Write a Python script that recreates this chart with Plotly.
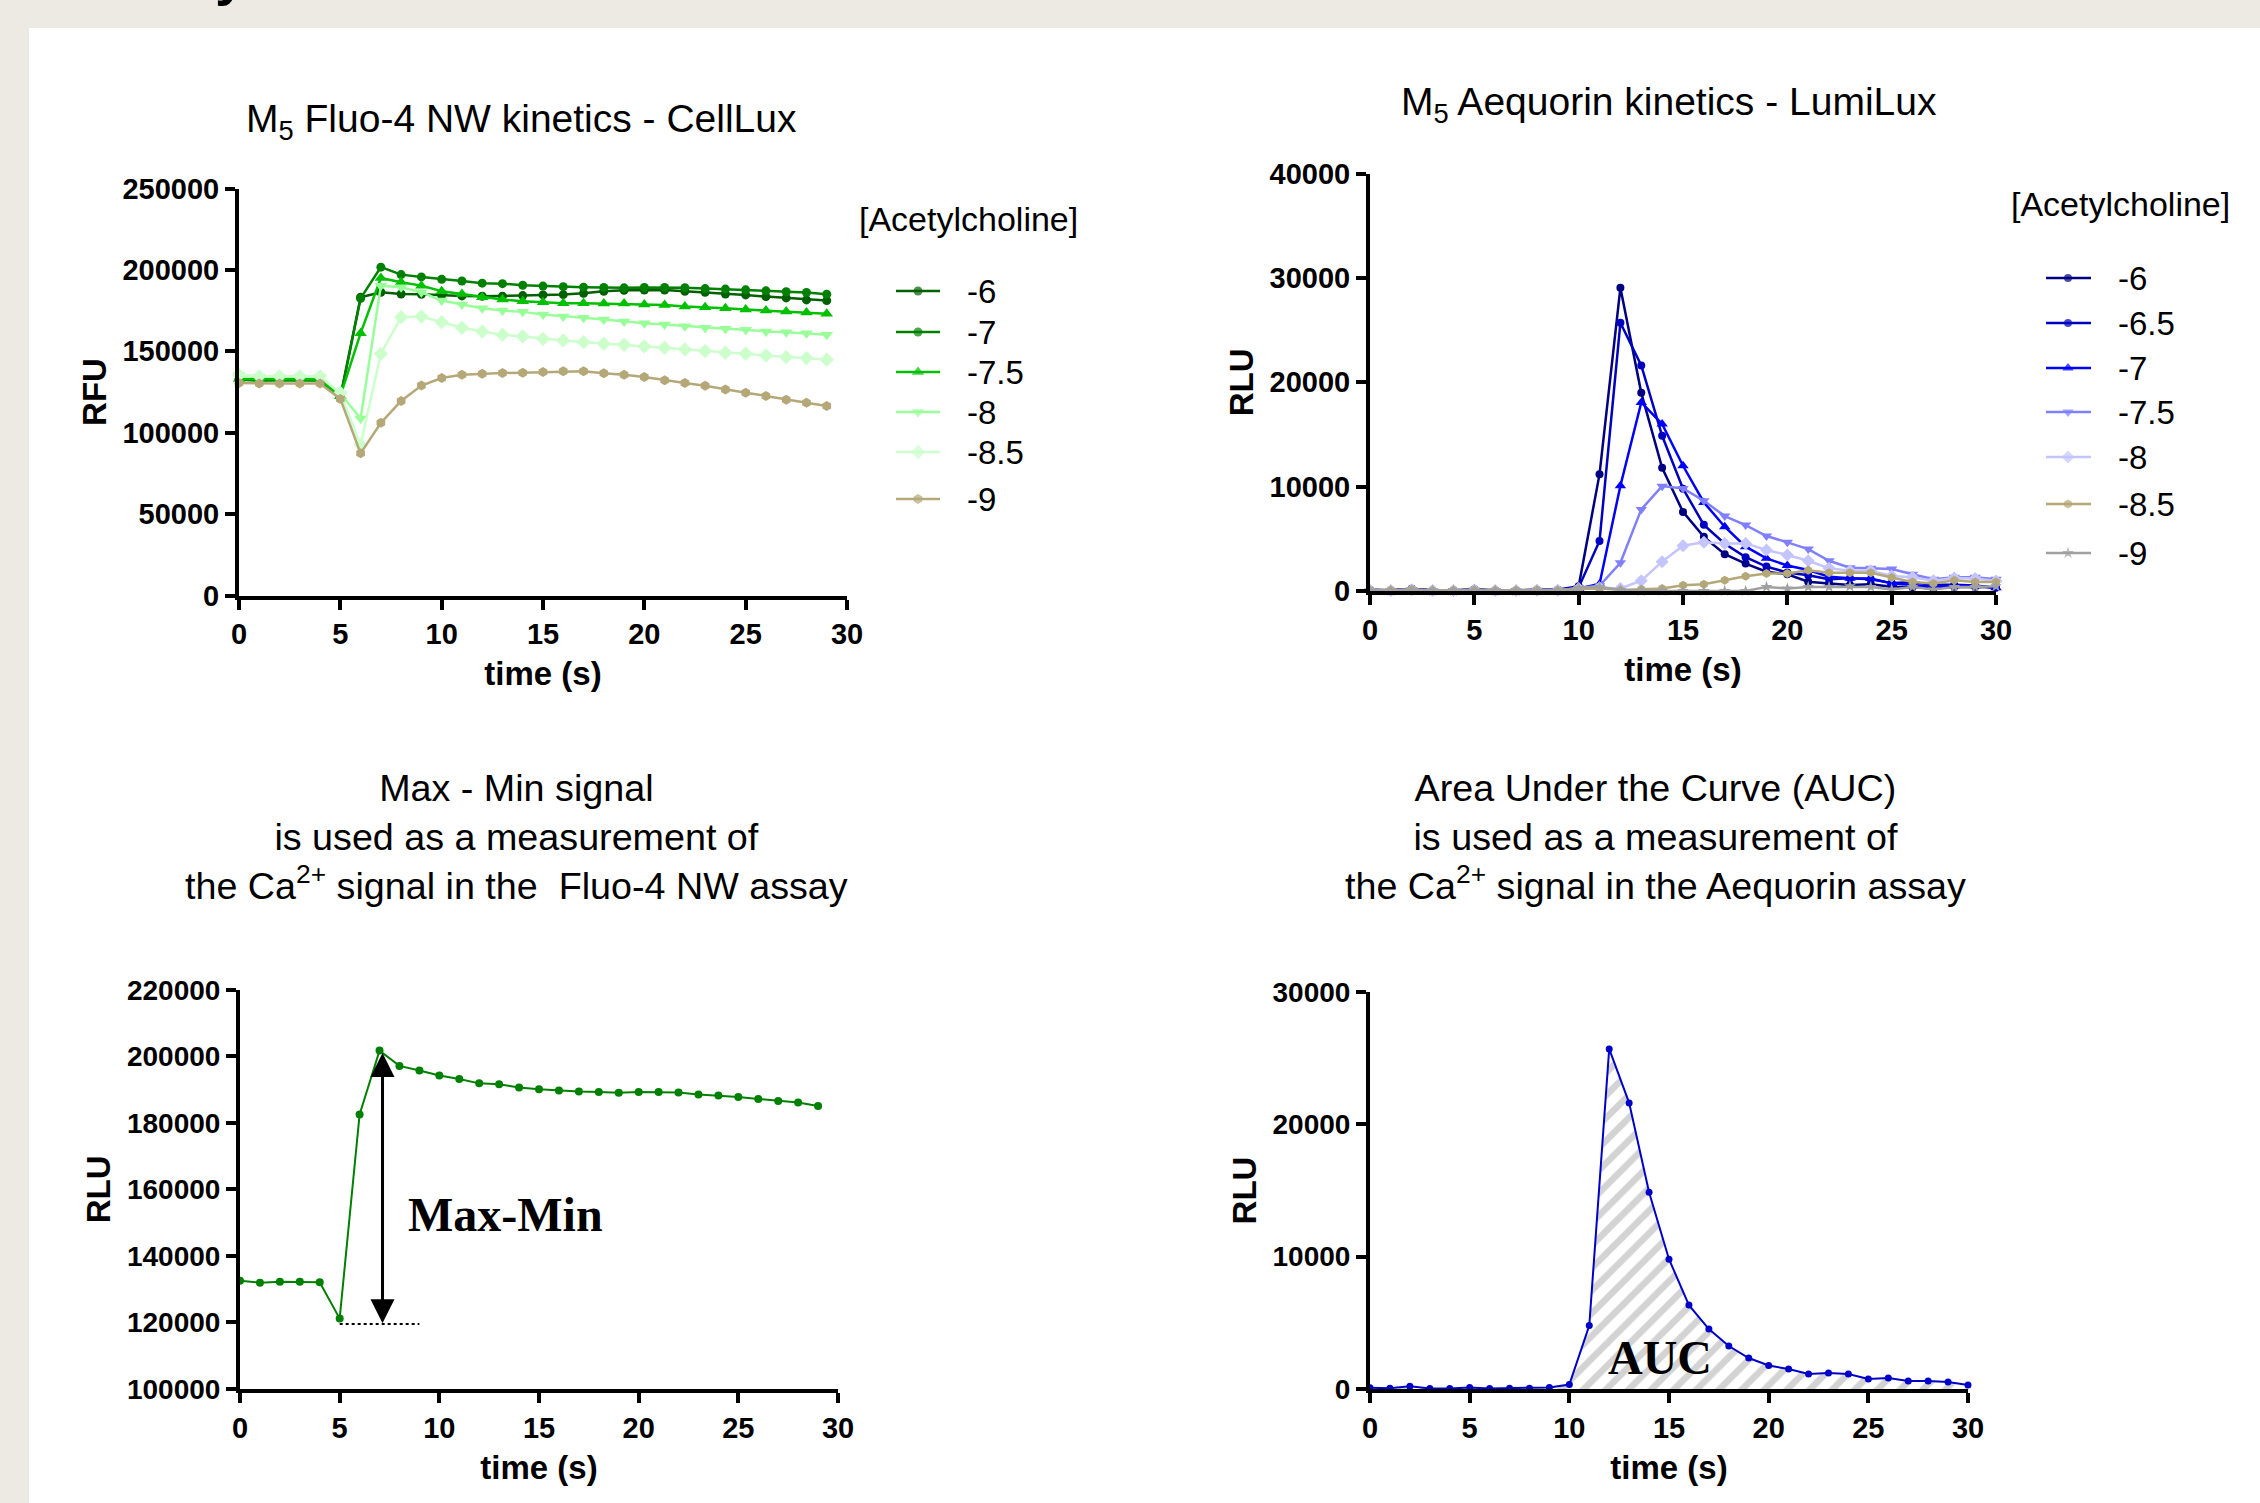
import plotly.graph_objects as go

W, H = 2260, 1503
SANS = "Liberation Sans, Arial, sans-serif"
SERIF = "Liberation Serif, Times New Roman, serif"

# ------------------------------------------------------------------ data
fluo_time = [0, 1, 2, 3, 4, 5, 6, 7, 8, 9, 10, 11, 12, 13, 14, 15, 16, 17, 18, 19,
             20, 21, 22, 23, 24, 25, 26, 27, 28, 29]
fluo_conc = ["-6", "-7", "-7.5", "-8", "-8.5", "-9"]
fluo_m6 = [132600, 132400, 132500, 132500, 132400, 121960, 183200, 186250, 185230, 185030,
           184420, 184010, 183800, 183800, 184200, 184620, 184830, 185640, 186860, 187470,
           187680, 187680, 186870, 186250, 185230, 184620, 183600, 182780, 181560, 181150]
fluo_m7 = [132550, 131950, 132250, 132250, 132100, 121150, 182500, 201700, 197100, 195700,
           194200, 193150, 191850, 191550, 190600, 190050, 189700, 189400, 189250, 189000,
           189250, 189250, 189100, 188500, 188200, 187750, 187150, 186550, 186100, 185050]
fluo_m75 = [133000, 132800, 132800, 132800, 132700, 122400, 161160, 195020, 192370, 190330,
            186860, 185230, 183190, 181760, 180740, 180130, 179520, 179520, 179320, 179320,
            178700, 178500, 177480, 177070, 176460, 175640, 175030, 174420, 173810, 172990]
fluo_m8 = [135450, 134400, 134400, 134400, 134300, 124030, 108730, 190330, 189310, 186250,
           181150, 178700, 176460, 175030, 174220, 172580, 171360, 170540, 169530, 168300,
           167280, 166470, 165450, 164430, 163810, 163200, 162180, 161770, 161160, 160140]
fluo_m85 = [135500, 134640, 134640, 134640, 134640, 124440, 92410, 148510, 170950, 171360,
            167890, 164420, 162180, 160140, 159120, 157690, 156670, 155650, 154630, 154020,
            153000, 152180, 151160, 150140, 149120, 148510, 147490, 146470, 145860, 144840]
fluo_m9 = [130560, 130150, 130150, 130150, 130150, 120770, 87310, 106080, 119540, 128930,
           133620, 135660, 136270, 136680, 136880, 137290, 137700, 137700, 136480, 135660,
           134230, 132190, 130560, 128800, 126500, 124600, 122600, 120300, 118400, 116400]

aeq_time = [0, 1, 2, 3, 4, 5, 6, 7, 8, 9, 10, 11, 12, 13, 14, 15, 16, 17, 18, 19, 20,
            21, 22, 23, 24, 25, 26, 27, 28, 29, 30]
aeq_conc = ["-6", "-6.5", "-7", "-7.5", "-8", "-8.5", "-9"]
aeq_m6 = [120, 60, 220, 60, 80, 160, 70, 60, 130, 110, 450, 11200, 29050, 18990, 11800,
          7580, 5190, 3525, 2630, 1850, 1600, 890, 730, 570, 640, 415, 350, 255, 415, 415, 350]
aeq_m65 = [100, 60, 200, 40, 40, 110, 40, 50, 60, 120, 340, 4790, 25700, 21620, 14870,
           9810, 6340, 4530, 3245, 2340, 1775, 1510, 1130, 1210, 1130, 755, 830, 600, 600, 530, 300]
aeq_m7 = [-80, -60, 150, -50, -40, 80, -70, -60, 40, 0, 250, 670, 10090, 18070, 16000,
          12000, 8490, 6160, 4250, 3130, 2440, 2010, 1370, 1210, 1200, 730, 570, 400, 500, 500, 300]
aeq_m75 = [50, 40, 150, 30, 40, 100, 40, 40, 80, 60, 300, 500, 2710, 7820, 10050,
           9830, 8650, 7180, 6320, 5270, 4660, 4020, 2900, 2230, 2170, 2110, 1600, 1120, 1310, 1310, 1120]
aeq_m8 = [60, 50, 120, 40, 50, 90, 50, 50, 70, 60, 250, 300, 250, 990, 2810,
          4340, 4660, 4560, 4560, 3930, 3450, 2900, 2170, 1950, 1950, 1440, 1310, 990, 1250, 1200, 950]
aeq_m85 = [80, 60, 150, 50, 60, 100, 60, 60, 90, 80, 200, 250, 100, 160, 240,
           555, 650, 1035, 1420, 1675, 1675, 1995, 1740, 1740, 1740, 1290, 870, 720, 1035, 870, 870]
aeq_m9 = [30, 20, 80, 20, 20, 60, 20, 20, 40, 30, 300, 400, 100, 20, 10,
          0, 10, 0, 0, 390, 240, 390, 390, 450, 390, 150, 390, 150, 390, 390, 450]

maxmin_time = fluo_time
maxmin_rlu = [132550, 131950, 132250, 132250, 132100, 121150, 182500, 201700, 197100, 195700,
              194200, 193150, 191850, 191550, 190600, 190050, 189700, 189400, 189250, 189000,
              189250, 189250, 189100, 188500, 188200, 187750, 187150, 186550, 186100, 185050]
maxmin_top = 201000      # arrow tip (max)
maxmin_bottom = 119300   # arrow tip (min baseline)
maxmin_arrow_t = 7.15
maxmin_base_t = [5, 9]

auc_time = aeq_time
auc_rlu = [100, 60, 200, 40, 40, 110, 40, 50, 60, 120, 340, 4790, 25700, 21620, 14870,
           9810, 6340, 4530, 3245, 2340, 1775, 1510, 1130, 1210, 1130, 755, 830, 600, 600, 530, 300]

x_ticks = [0, 5, 10, 15, 20, 25, 30]

# ------------------------------------------------------------------ styles
fluo_series = [fluo_m6, fluo_m7, fluo_m75, fluo_m8, fluo_m85, fluo_m9]
fluo_style = [("#006000", "circle", 9), ("#008000", "circle", 9), ("#00C000", "triangle-up", 11),
              ("#99FF99", "triangle-down", 11), ("#CCFFCC", "diamond", 11), ("#B5A878", "hexagon", 10)]
aeq_series = [aeq_m6, aeq_m65, aeq_m7, aeq_m75, aeq_m8, aeq_m85, aeq_m9]
aeq_style = [("#000080", "circle", 8), ("#0000C0", "circle", 8), ("#0000FF", "triangle-up", 10),
             ("#8080FF", "triangle-down", 10), ("#C4C4FF", "diamond", 10), ("#B5A878", "hexagon", 9),
             ("#A0A0A0", "star", 9)]


def px(x):
    return x / W


def py(y):
    return 1 - y / H


fig = go.Figure()

for vals, name, (col, sym, sz) in zip(fluo_series, fluo_conc, fluo_style):
    fig.add_trace(go.Scatter(x=fluo_time, y=vals, name=name, xaxis="x", yaxis="y",
                             mode="lines+markers", cliponaxis=False, showlegend=False,
                             line=dict(color=col, width=2.5),
                             marker=dict(symbol=sym, size=sz, color=col, line=dict(width=0))))

for vals, name, (col, sym, sz) in zip(aeq_series, aeq_conc, aeq_style):
    fig.add_trace(go.Scatter(x=aeq_time, y=vals, name=name, xaxis="x2", yaxis="y2",
                             mode="lines+markers", cliponaxis=False, showlegend=False,
                             line=dict(color=col, width=2.5),
                             marker=dict(symbol=sym, size=sz, color=col, line=dict(width=0))))

fig.add_trace(go.Scatter(x=maxmin_time, y=maxmin_rlu, xaxis="x3", yaxis="y3", mode="lines+markers",
                         cliponaxis=False, showlegend=False, line=dict(color="#008000", width=2),
                         marker=dict(size=8, color="#008000")))

fig.add_trace(go.Scatter(x=auc_time, y=auc_rlu, xaxis="x4", yaxis="y4", mode="lines+markers",
                         cliponaxis=False, showlegend=False, fill="tozeroy", fillcolor="white",
                         fillpattern=dict(shape="/", fgcolor="#A8A8A8", bgcolor="white",
                                          size=16, solidity=0.42),
                         line=dict(color="#0000C8", width=2),
                         marker=dict(size=7, color="#0000C8")))

# ------------------------------------------------------------------ manual legends (overlay pixel axis)
legends = [
    dict(labels=fluo_conc, styles=fluo_style, title=(968, 219), line=(896, 918, 940), text_x=965,
         rows=[291, 332, 372, 412, 452, 499]),
    dict(labels=aeq_conc, styles=aeq_style, title=(2120, 204), line=(2046, 2068, 2091), text_x=2116,
         rows=[278, 323, 368, 412, 457, 504, 553]),
]
annotations = []
for lg in legends:
    annotations.append(dict(text="[Acetylcholine]", x=lg["title"][0], y=lg["title"][1], xref="x5", yref="y5",
                            showarrow=False, xanchor="center", yanchor="middle",
                            font=dict(family=SANS, size=34, color="black")))
    for lab, (col, sym, sz), yr in zip(lg["labels"], lg["styles"], lg["rows"]):
        fig.add_trace(go.Scatter(x=list(lg["line"]), y=[yr, yr, yr], xaxis="x5", yaxis="y5",
                                 mode="lines+markers", showlegend=False, hoverinfo="skip",
                                 cliponaxis=False, line=dict(color=col, width=2.5),
                                 marker=dict(symbol=sym, size=[0, sz, 0], color=col,
                                             line=dict(width=0))))
        annotations.append(dict(text=lab, x=lg["text_x"], y=yr, xref="x5", yref="y5", showarrow=False,
                                xanchor="left", yanchor="middle",
                                font=dict(family=SANS, size=33, color="black")))

# ------------------------------------------------------------------ titles
top_font = dict(family=SANS, size=39, color="black")
low_font = dict(family=SANS, size=37.7, color="black")
annotations += [
    dict(text="M<sub>5</sub> Fluo-4 NW kinetics - CellLux", x=px(521), y=py(121), xref="paper",
         yref="paper", showarrow=False, xanchor="center", yanchor="middle", font=top_font),
    dict(text="M<sub>5</sub> Aequorin kinetics - LumiLux", x=px(1669), y=py(104), xref="paper",
         yref="paper", showarrow=False, xanchor="center", yanchor="middle", font=top_font),
    dict(text="Max - Min signal<br>is used as a measurement of<br>the Ca<sup>2+</sup> signal in the\u00a0 Fluo-4 NW assay",
         x=px(516), y=py(837), xref="paper", yref="paper", showarrow=False, xanchor="center",
         yanchor="middle", font=low_font),
    dict(text="Area Under the Curve (AUC)<br>is used as a measurement of<br>the Ca<sup>2+</sup> signal in the Aequorin assay",
         x=px(1655), y=py(837), xref="paper", yref="paper", showarrow=False, xanchor="center",
         yanchor="middle", font=low_font),
    # cut-off slide heading glyph at the very top
    dict(text="y", x=px(213), y=py(-59), xref="paper", yref="paper", showarrow=False,
         xanchor="left", yanchor="top", font=dict(family=SANS, size=56, color="black", weight="bold")),
    # Max-Min annotation
    dict(text="<b>Max-Min</b>", x=8.33, y=152300, xref="x3", yref="y3", showarrow=False,
         xanchor="left", yanchor="middle", font=dict(family=SERIF, size=48, color="black")),
    dict(x=maxmin_arrow_t, y=maxmin_top, ax=maxmin_arrow_t, ay=maxmin_bottom, xref="x3", yref="y3",
         axref="x3", ayref="y3", text="", showarrow=True, arrowhead=2, startarrowhead=2,
         arrowside="end+start", arrowwidth=3, arrowsize=1.6, startarrowsize=1.6, arrowcolor="black"),
    dict(text="<b>AUC</b>", x=14.53, y=2390, xref="x4", yref="y4", showarrow=False,
         xanchor="center", yanchor="middle", font=dict(family=SERIF, size=48, color="black")),
]

shapes = [
    dict(type="rect", xref="paper", yref="paper", x0=px(29), x1=1, y0=0, y1=py(28),
         fillcolor="white", line=dict(width=0), layer="below"),
    dict(type="line", xref="x3", yref="y3", x0=maxmin_base_t[0], x1=maxmin_base_t[1],
         y0=maxmin_bottom + 200, y1=maxmin_bottom + 200, line=dict(color="black", width=2, dash="dot")),
]


def xaxis(dom, anchor, standoff=14):
    return dict(domain=[px(dom[0]), px(dom[1])], anchor=anchor, range=[0, 30], tickvals=x_ticks,
                showline=True, linecolor="black", linewidth=4, ticks="outside", ticklen=10,
                tickwidth=4, tickcolor="black", showgrid=False, zeroline=False, automargin=False,
                tickfont=dict(family=SANS, size=29, color="black", weight="bold"),
                title=dict(text="time (s)", standoff=standoff,
                           font=dict(family=SANS, size=33, color="black", weight="bold")))


def yaxis(dom, anchor, rng, dtick, title, fs=29, standoff=7):
    return dict(domain=[py(dom[0]), py(dom[1])], anchor=anchor, range=rng, dtick=dtick, tick0=0,
                tickformat="d", showline=True, linecolor="black", linewidth=4, ticks="outside",
                ticklen=10, tickwidth=4, tickcolor="black", showgrid=False, zeroline=False,
                automargin=False,
                tickfont=dict(family=SANS, size=fs, color="black", weight="bold"),
                title=dict(text=title, standoff=standoff,
                           font=dict(family=SANS, size=33, color="black", weight="bold")))


fig.update_layout(
    width=W, height=H, autosize=False, margin=dict(l=0, r=0, t=0, b=0),
    paper_bgcolor="#EDEAE3", plot_bgcolor="rgba(0,0,0,0)",
    font=dict(family=SANS, color="black"),
    showlegend=False,
    xaxis=xaxis((239, 847), "y"),
    yaxis=yaxis((595.5, 188.5), "x", [0, 250000], 50000, "RFU"),
    xaxis2=xaxis((1370, 1996), "y2"),
    yaxis2=yaxis((591, 173.6), "x2", [0, 40000], 10000, "RLU"),
    xaxis3=xaxis((240, 838), "y3"),
    yaxis3=yaxis((1389, 989.7), "x3", [100000, 220000], 20000, "RLU", fs=28),
    xaxis4=xaxis((1370, 1968), "y4"),
    yaxis4=yaxis((1389, 992), "x4", [0, 30000], 10000, "RLU", fs=28),
    xaxis5=dict(domain=[0, 1], anchor="y5", range=[0, W], visible=False, fixedrange=True),
    yaxis5=dict(domain=[0, 1], anchor="x5", range=[H, 0], visible=False, fixedrange=True),
    annotations=annotations,
    shapes=shapes,
)

fig.write_html("out.html", config={"displayModeBar": False},
               post_script="document.body.style.margin='0';document.body.style.overflow='hidden';")
